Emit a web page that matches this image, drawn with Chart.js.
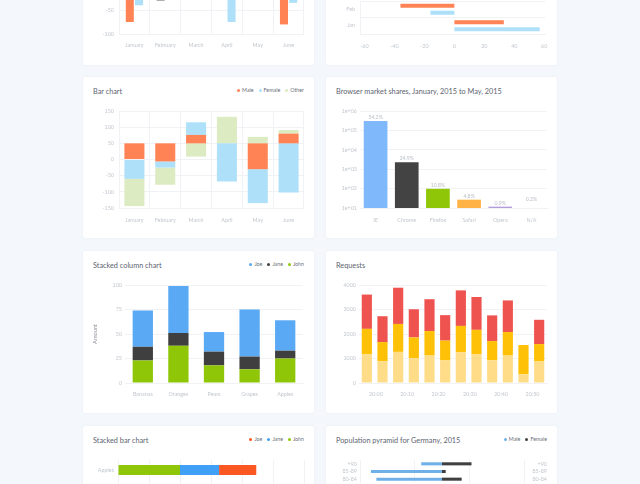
<!DOCTYPE html>
<html>
<head>
<meta charset="utf-8">
<title>Charts</title>
<script src="https://cdn.jsdelivr.net/npm/chart.js@4/dist/chart.umd.min.js"></script>
<style>
  html, body { margin: 0; padding: 0; width: 640px; height: 484px; overflow: hidden; background: #f4f7fb; }
  body { position: relative; font-family: Lato, "Noto Sans", sans-serif; }
  .card { position: absolute; background: #fff; border-radius: 3px; box-shadow: 0 0 3px rgba(120,140,170,.08); }
  .card canvas { position: absolute; left: 0; top: 0; }
  .title { position: absolute; left: 10px; top: 9px; font-size: 7.3px; line-height: 12px; color: #5d6470; white-space: nowrap; }
  .legend { position: absolute; right: 10px; top: 8px; font-size: 5.3px; line-height: 10px; color: #6a707a; white-space: nowrap; display: flex; gap: 5px; }
  .legend i { display: inline-block; width: 3px; height: 3px; margin-right: 2px; vertical-align: 0.5px; border-radius: 50%; }
</style>
</head>
<body>
<script>
// top left, only the bottom of it is on the page
var groupedMonths = ['January', 'February', 'March', 'April', 'May', 'June'];
var groupedMale = [-75, -31, null, null, null, -80];
var groupedFemale = [-40, null, null, -75, null, -35];

// top right
var hbarCategories = ['Feb', 'Jan'];
var hbarMale = [-36, 33];
var hbarFemale = [-16, 57];

// floating stacks, [from, to]
var floatMonths = ['January', 'February', 'March', 'April', 'May', 'June'];
var floatMale = [[0, 50], [-6, 50], [50, 76], null, [-30, 50], [50, 80]];
var floatFemale = [[-60, 0], [-25, -6], [76, 115], [-68, 50], [-135, -30], [-102, 50]];
var floatOther = [[-144, -60], [-78, -25], [9, 50], [50, 132], [50, 70], [80, 91]];

var browserNames = ['IE', 'Chrome', 'Firefox', 'Safari', 'Opera', 'N/A'];
var browserValues = [5.49, 3.36, 1.99, 1.43, 1.07, 1.24];
var browserLabels = ['54.2%', '24.9%', '10.8%', '4.8%', '0.9%', '0.2%'];
var browserColors = ['#7fb8fb', '#434343', '#8fc708', '#ffb347', '#b39ddb', 'rgba(0,0,0,0)'];
var browserTicks = ['1e+01', '1e+02', '1e+03', '1e+04', '1e+05', '1e+06'];

var fruits = ['Bananas', 'Oranges', 'Pears', 'Grapes', 'Apples'];
var columnJoe = [37, 48, 20, 48, 31];
var columnJane = [14, 13, 14, 13, 8];
var columnJohn = [23, 38, 18, 14, 25];

var requestTimes = ['20:00', '20:05', '20:10', '20:15', '20:20', '20:25', '20:30', '20:35', '20:40', '20:45', '20:50', '20:55'];
var requestsLight = [1180, 890, 1270, 1010, 1120, 920, 1260, 1180, 930, 1120, 360, 880];
var requestsMid = [1030, 780, 1140, 850, 1000, 810, 1070, 990, 780, 960, 1190, 710];
var requestsTop = [1400, 1055, 1480, 1150, 1300, 1040, 1450, 1340, 1050, 1290, 0, 990];

var stackedCategories = ['Apples', ''];
var stackedJohn = [20, null];
var stackedJane = [12.6, null];
var stackedJoe = [12, null];

var ageGroups = ['+90', '85-89', '80-84'];
var pyramidMale = [-19, -65, -60];
var pyramidFemale = [27, 3.4, 18];

var tickColor = '#c2c7ce';
var gridColor = '#f0f2f5';
var tickFont = { family: 'Lato', size: 5.4 };

Chart.defaults.animation = false;
Chart.defaults.responsive = false;
Chart.defaults.maintainAspectRatio = false;
Chart.defaults.plugins.legend.display = false;
Chart.defaults.plugins.tooltip.enabled = false;
Chart.defaults.scale.grid.drawTicks = false;

function addCard(left, top, width, height, title, legendItems) {
  var card = document.createElement('div');
  card.className = 'card';
  card.style.cssText = 'left:' + left + 'px;top:' + top + 'px;width:' + width + 'px;height:' + height + 'px';
  if (title) {
    var t = document.createElement('div');
    t.className = 'title';
    t.textContent = title;
    card.appendChild(t);
  }
  if (legendItems) {
    var l = document.createElement('div');
    l.className = 'legend';
    legendItems.forEach(function (item) {
      var s = document.createElement('span');
      s.innerHTML = '<i style="background:' + item[1] + '"></i>' + item[0];
      l.appendChild(s);
    });
    card.appendChild(l);
  }
  var c = document.createElement('canvas');
  c.width = width;
  c.height = height;
  card.appendChild(c);
  document.body.appendChild(card);
  return c.getContext('2d');
}

// fixes the axis box so the plot lands where the reference has it
function fitWidth(w) { return function (scale) { scale.width = w; }; }
function fitHeight(h) { return function (scale) { scale.height = h; }; }

function ticks(extra) {
  return Object.assign({ color: tickColor, font: tickFont, maxRotation: 0, autoSkip: false }, extra || {});
}

/* grouped columns, cut by the top of the page */
new Chart(addCard(83, -100, 231, 165), {
  type: 'bar',
  data: {
    labels: groupedMonths,
    datasets: [
      { label: 'Male', data: groupedMale, backgroundColor: ['#ff8355', '#a9abad', '#ff8355', '#ff8355', '#ff8355', '#ff8355'], categoryPercentage: 0.6, barPercentage: 0.87 },
      { label: 'Female', data: groupedFemale, backgroundColor: '#aee0f9', categoryPercentage: 0.6, barPercentage: 0.87 }
    ]
  },
  options: {
    layout: { padding: { top: 100, right: 10 } },
    scales: {
      x: { grid: { color: gridColor }, border: { display: false }, ticks: ticks({ padding: 8 }), afterFit: fitHeight(31) },
      y: {
        min: -100, max: -29,
        grid: { color: gridColor }, border: { display: false },
        ticks: ticks({ stepSize: 50, padding: 5, includeBounds: false }),
        afterFit: fitWidth(36)
      }
    }
  }
});

/* horizontal pairs, cut by the top of the page */
new Chart(addCard(326, -100, 231, 165), {
  type: 'bar',
  data: {
    labels: hbarCategories,
    datasets: [
      { label: 'Male', data: hbarMale, backgroundColor: '#ff8355', categoryPercentage: 0.85, barPercentage: 0.58 },
      { label: 'Female', data: hbarFemale, backgroundColor: '#aee0f9', categoryPercentage: 0.85, barPercentage: 0.58 }
    ]
  },
  options: {
    indexAxis: 'y',
    layout: { padding: { top: 101, right: 12 } },
    scales: {
      x: {
        min: -63, max: 60.5,
        grid: { display: false }, border: { color: gridColor },
        ticks: ticks({ stepSize: 20, padding: 9, includeBounds: false }),
        afterFit: fitHeight(31)
      },
      y: { grid: { color: gridColor }, border: { color: gridColor }, ticks: ticks({ padding: 5 }), afterFit: fitWidth(34) }
    }
  }
});

/* Bar chart */
new Chart(addCard(83, 77, 231, 161, 'Bar chart', [['Male', '#ff8355'], ['Female', '#aee0f9'], ['Other', '#dcebc2']]), {
  type: 'bar',
  data: {
    labels: floatMonths,
    datasets: [
      { label: 'Male', data: floatMale, backgroundColor: '#ff8355', barPercentage: 0.65, categoryPercentage: 1 },
      { label: 'Female', data: floatFemale, backgroundColor: '#aee0f9', barPercentage: 0.65, categoryPercentage: 1 },
      { label: 'Other', data: floatOther, backgroundColor: '#dcebc2', barPercentage: 0.65, categoryPercentage: 1 }
    ]
  },
  options: {
    layout: { padding: { top: 34, right: 10 } },
    scales: {
      x: { stacked: true, grid: { color: gridColor }, border: { display: false }, ticks: ticks({ padding: 9 }), afterFit: fitHeight(30) },
      y: {
        min: -150, max: 150,
        grid: { color: gridColor }, border: { display: false },
        ticks: ticks({ stepSize: 50, padding: 5 }),
        afterFit: fitWidth(36)
      }
    }
  }
});

/* Browser market shares */
var valueLabels = {
  id: 'valueLabels',
  afterDatasetsDraw: function (chart) {
    var ctx = chart.ctx;
    ctx.save();
    ctx.font = '5.2px Lato';
    ctx.fillStyle = '#b9bec5';
    ctx.textAlign = 'center';
    ctx.textBaseline = 'bottom';
    chart.getDatasetMeta(0).data.forEach(function (bar, i) {
      ctx.fillText(browserLabels[i], bar.x, bar.y - 1);
    });
    ctx.restore();
  }
};

new Chart(addCard(326, 77, 231, 161, 'Browser market shares, January, 2015 to May, 2015'), {
  type: 'bar',
  plugins: [valueLabels],
  data: {
    labels: browserNames,
    datasets: [{ label: 'Share', data: browserValues, backgroundColor: browserColors, barPercentage: 0.76, categoryPercentage: 1 }]
  },
  options: {
    layout: { padding: { top: 34, right: 10 } },
    scales: {
      x: { grid: { display: false }, border: { color: gridColor }, ticks: ticks({ padding: 9 }), afterFit: fitHeight(30) },
      y: {
        min: 1, max: 6,
        grid: { color: gridColor }, border: { display: false },
        ticks: ticks({
          stepSize: 1, padding: 3,
          callback: function (v) { return browserTicks[v - 1]; }
        }),
        afterFit: fitWidth(34)
      }
    }
  }
});

/* Stacked column chart */
new Chart(addCard(83, 251, 231, 162, 'Stacked column chart', [['Joe', '#5aa9f5'], ['Jane', '#3f3f3f'], ['John', '#8fc708']]), {
  type: 'bar',
  data: {
    labels: fruits,
    datasets: [
      { label: 'John', data: columnJohn, backgroundColor: '#8fc708', barPercentage: 0.57, categoryPercentage: 1 },
      { label: 'Jane', data: columnJane, backgroundColor: '#3f3f3f', barPercentage: 0.57, categoryPercentage: 1 },
      { label: 'Joe', data: columnJoe, backgroundColor: '#5aa9f5', barPercentage: 0.57, categoryPercentage: 1 }
    ]
  },
  options: {
    layout: { padding: { top: 34, right: 11 } },
    scales: {
      x: { stacked: true, grid: { display: false }, border: { color: gridColor }, ticks: ticks({ padding: 8.5 }), afterFit: fitHeight(30) },
      y: {
        stacked: true, min: 0, max: 100,
        grid: { color: gridColor }, border: { display: false },
        title: { display: true, text: 'Amount', color: '#8d929a', font: { family: 'Lato', size: 5.6 }, padding: { top: 9, bottom: 0 } },
        ticks: ticks({ stepSize: 25, padding: 3 }),
        afterFit: fitWidth(42)
      }
    }
  }
});

/* Requests */
new Chart(addCard(326, 251, 231, 162, 'Requests'), {
  type: 'bar',
  data: {
    labels: requestTimes,
    datasets: [
      { label: 'A', data: requestsLight, backgroundColor: '#ffdd88', barPercentage: 0.65, categoryPercentage: 1 },
      { label: 'B', data: requestsMid, backgroundColor: '#ffc107', barPercentage: 0.65, categoryPercentage: 1 },
      { label: 'C', data: requestsTop, backgroundColor: '#ef5350', barPercentage: 0.65, categoryPercentage: 1 }
    ]
  },
  options: {
    layout: { padding: { top: 34, right: 10 } },
    scales: {
      x: {
        stacked: true,
        grid: { display: false }, border: { color: gridColor },
        ticks: ticks({
          padding: 8.5, labelOffset: 9,
          callback: function (v, i) { return i % 2 === 0 ? requestTimes[i] : ''; }
        }),
        afterFit: fitHeight(30)
      },
      y: {
        stacked: true, min: 0, max: 4000,
        grid: { color: gridColor }, border: { display: false },
        ticks: ticks({ stepSize: 1000, padding: 3, callback: function (v) { return String(v); } }),
        afterFit: fitWidth(33)
      }
    }
  }
});

/* Stacked bar chart, runs off the bottom of the page */
new Chart(addCard(83, 426, 231, 100, 'Stacked bar chart', [['Joe', '#fb5722'], ['Jane', '#3fa0f5'], ['John', '#8fc708']]), {
  type: 'bar',
  data: {
    labels: stackedCategories,
    datasets: [
      { label: 'John', data: stackedJohn, backgroundColor: '#8fc708', barPercentage: 0.5, categoryPercentage: 1 },
      { label: 'Jane', data: stackedJane, backgroundColor: '#3fa0f5', barPercentage: 0.5, categoryPercentage: 1 },
      { label: 'Joe', data: stackedJoe, backgroundColor: '#fb5722', barPercentage: 0.5, categoryPercentage: 1 }
    ]
  },
  options: {
    indexAxis: 'y',
    layout: { padding: { top: 34, right: 10 } },
    scales: {
      x: {
        stacked: true, min: 0, max: 60,
        grid: { color: gridColor }, border: { display: false },
        ticks: { display: false, stepSize: 10 },
        afterFit: fitHeight(26)
      },
      y: { stacked: true, grid: { display: false }, border: { color: gridColor }, ticks: ticks({ padding: 4 }), afterFit: fitWidth(35) }
    }
  }
});

/* Population pyramid, also runs off the bottom */
new Chart(addCard(326, 426, 231, 100, 'Population pyramid for Germany, 2015', [['Male', '#6fb0e8'], ['Female', '#404040']]), {
  type: 'bar',
  data: {
    labels: ageGroups,
    datasets: [
      { label: 'Male', data: pyramidMale, backgroundColor: '#6fb0e8', barPercentage: 0.4, categoryPercentage: 1 },
      { label: 'Female', data: pyramidFemale, backgroundColor: '#404040', barPercentage: 0.4, categoryPercentage: 1 }
    ]
  },
  options: {
    indexAxis: 'y',
    layout: { padding: { top: 34, right: 10 } },
    scales: {
      x: {
        stacked: true, min: -75, max: 75,
        grid: { color: gridColor }, border: { display: false },
        ticks: { display: false, stepSize: 50 },
        afterFit: fitHeight(43)
      },
      y: { stacked: true, grid: { display: false }, border: { display: false }, ticks: ticks({ padding: 3 }), afterFit: fitWidth(34) },
      y2: {
        type: 'category', labels: ageGroups, position: 'right',
        grid: { display: false }, border: { display: false },
        ticks: ticks({ crossAlign: 'far', padding: 3 }),
        afterFit: fitWidth(23)
      }
    }
  }
});
</script>
</body>
</html>
